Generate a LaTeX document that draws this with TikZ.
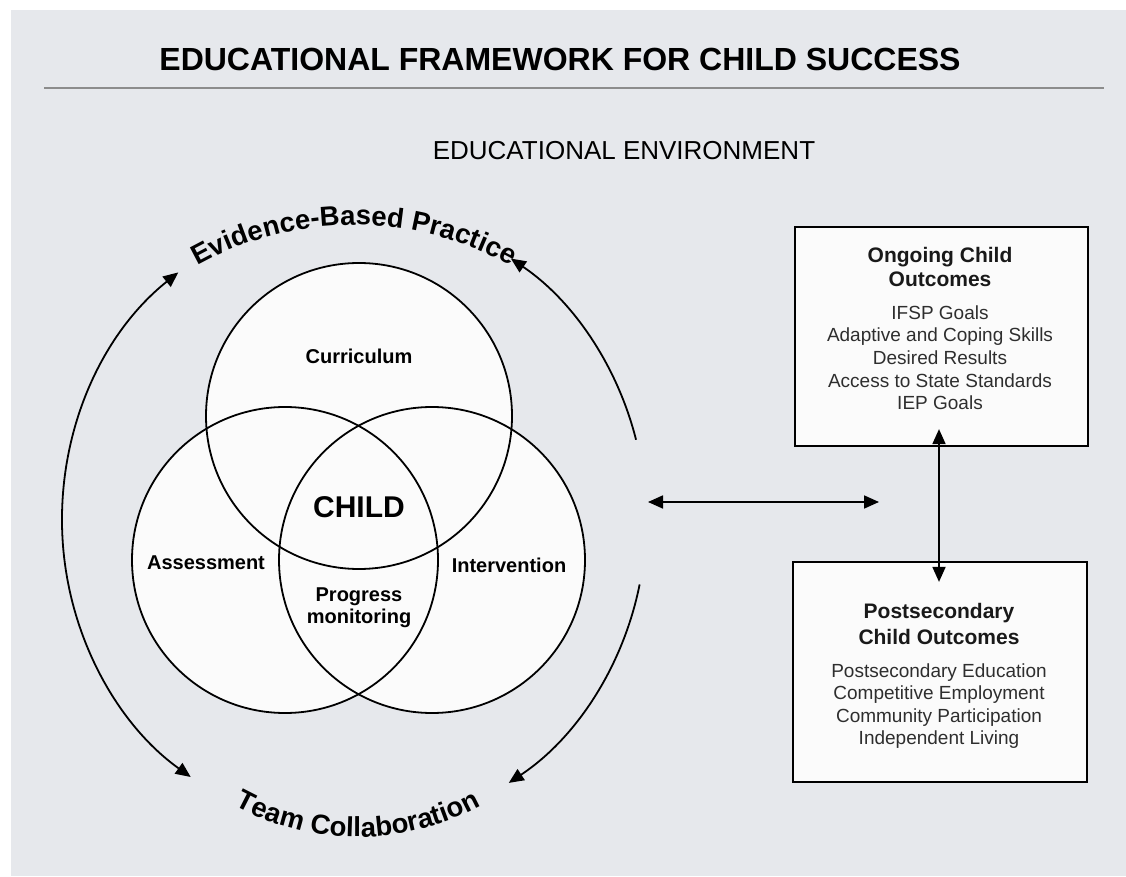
\documentclass[tikz,border=0pt]{standalone}
\usepackage{fontspec}
\setmainfont{Liberation Sans}
\usetikzlibrary{arrows.meta,decorations.text,calc}
\definecolor{bg}{HTML}{E6E8EC}
\definecolor{paper}{HTML}{FBFBFB}
\definecolor{rulegray}{HTML}{8C8C8C}
\newcommand\arcfont{\bfseries\fontsize{27.5}{32}\selectfont}
\tikzset{
  lbl/.style={font=\bfseries\fontsize{20}{24}\selectfont, anchor=base, inner sep=0pt},
  hd/.style={font=\bfseries\fontsize{21}{24}\selectfont, anchor=base, inner sep=0pt, text=black!90},
  itm/.style={font=\fontsize{19}{22}\selectfont, anchor=base, inner sep=0pt, text=black!82},
  outbox/.style={draw=black, line width=2.2pt, fill=paper, rectangle, inner sep=0pt},
  vring/.style={circle, draw=black, line width=1.8pt, minimum size=306pt, inner sep=0pt},
  tipend/.style={-{Triangle[length=15pt,width=13pt]}},
  tipboth/.style={{Triangle[length=15pt,width=13pt]}-{Triangle[length=15pt,width=13pt]}},
  conn/.style={line width=1.8pt, draw=black}
}
\begin{document}
\begin{tikzpicture}[x=1pt,y=1pt]
\useasboundingbox (0,0) rectangle (1126,876);
\fill[white] (0,0) rectangle (1126,876);
\fill[bg] (11,0) rectangle (1126,866);

% title
\node[font=\bfseries\fontsize{32}{36}\selectfont, anchor=base, inner sep=0pt] (title) at (560,805) {EDUCATIONAL FRAMEWORK FOR CHILD SUCCESS};
\draw[rulegray, line width=2pt] (44,788) -- (1104,788);
\node[font=\fontsize{26}{30}\selectfont, anchor=base, inner sep=0pt] (env) at (624,716) {EDUCATIONAL ENVIRONMENT};

% Venn
\fill[paper] (359,460) circle[radius=153];
\fill[paper] (285,316) circle[radius=153];
\fill[paper] (432,316) circle[radius=153];
\node[vring] (cT) at (359,460) {};
\node[vring] (cL) at (285,316) {};
\node[vring] (cR) at (432,316) {};
\node[lbl] (cur) at (359,512) {Curriculum};
\node[lbl, font=\bfseries\fontsize{30}{34}\selectfont] (child) at (359,358) {CHILD};
\node[lbl] (ass) at (206,307) {Assessment};
\node[lbl] (int) at (509,304) {Intervention};
\node[lbl] (prog) at (359,275) {Progress};
\node[lbl] (mon) at (359,253) {monitoring};

% outer arcs
\coordinate (oc) at (354,356);
\draw[conn, tipboth] ([shift={(127:292 and 310)}]oc) arc[start angle=127, end angle=236, x radius=292, y radius=310];
\draw[conn, tipend] ([shift={(15:292 and 310)}]oc) arc[start angle=15, end angle=57.5, x radius=292, y radius=310];
\draw[conn, tipend] ([shift={(-12:292 and 310)}]oc) arc[start angle=-12, end angle=-58, x radius=292, y radius=310];

\coordinate (tc) at (354,331);
\path[decorate, decoration={text along path, text align=center,
  text={|\arcfont|Evidence-Based Practice}}]
  ([shift={(140:320)}]tc) arc[start angle=140, end angle=40, radius=320];
\coordinate (bc) at (358,294);
\path[decorate, decoration={text along path, text align=center,
  text={|\arcfont|Team Collaboration}}]
  ([shift={(218:255)}]bc) arc[start angle=218, end angle=322, radius=255];

% boxes
\node[outbox, minimum width=293pt, minimum height=219pt] (ob) at (941.5,539.5) {};
\node[outbox, minimum width=294pt, minimum height=220pt] (pb) at (940,204) {};

\node[hd] (ob1) at (940,613) {Ongoing Child};
\node[hd] (ob2) at (940,589) {Outcomes};
\node[itm] (oi1) at (940,556) {IFSP Goals};
\node[itm] (oi2) at (940,534) {Adaptive and Coping Skills};
\node[itm] (oi3) at (940,511) {Desired Results};
\node[itm] (oi4) at (940,488) {Access to State Standards};
\node[itm] (oi5) at (940,466) {IEP Goals};

\node[hd] (pb1) at (939,258) {Postsecondary};
\node[hd] (pb2) at (939,232) {Child Outcomes};
\node[itm] (pi1) at (939,199) {Postsecondary Education};
\node[itm] (pi2) at (939,177) {Competitive Employment};
\node[itm] (pi3) at (939,154) {Community Participation};
\node[itm] (pi4) at (939,132) {Independent Living};

% connectors
\draw[conn, tipboth] ([xshift=-2.5pt,yshift=18pt]ob.south) -- ([xshift=-1pt,yshift=-21pt]pb.north);
\coordinate (ha1) at (648,374);
\coordinate (ha2) at (879,374);
\draw[conn, tipboth] (ha1) -- (ha2);
\end{tikzpicture}
\end{document}
